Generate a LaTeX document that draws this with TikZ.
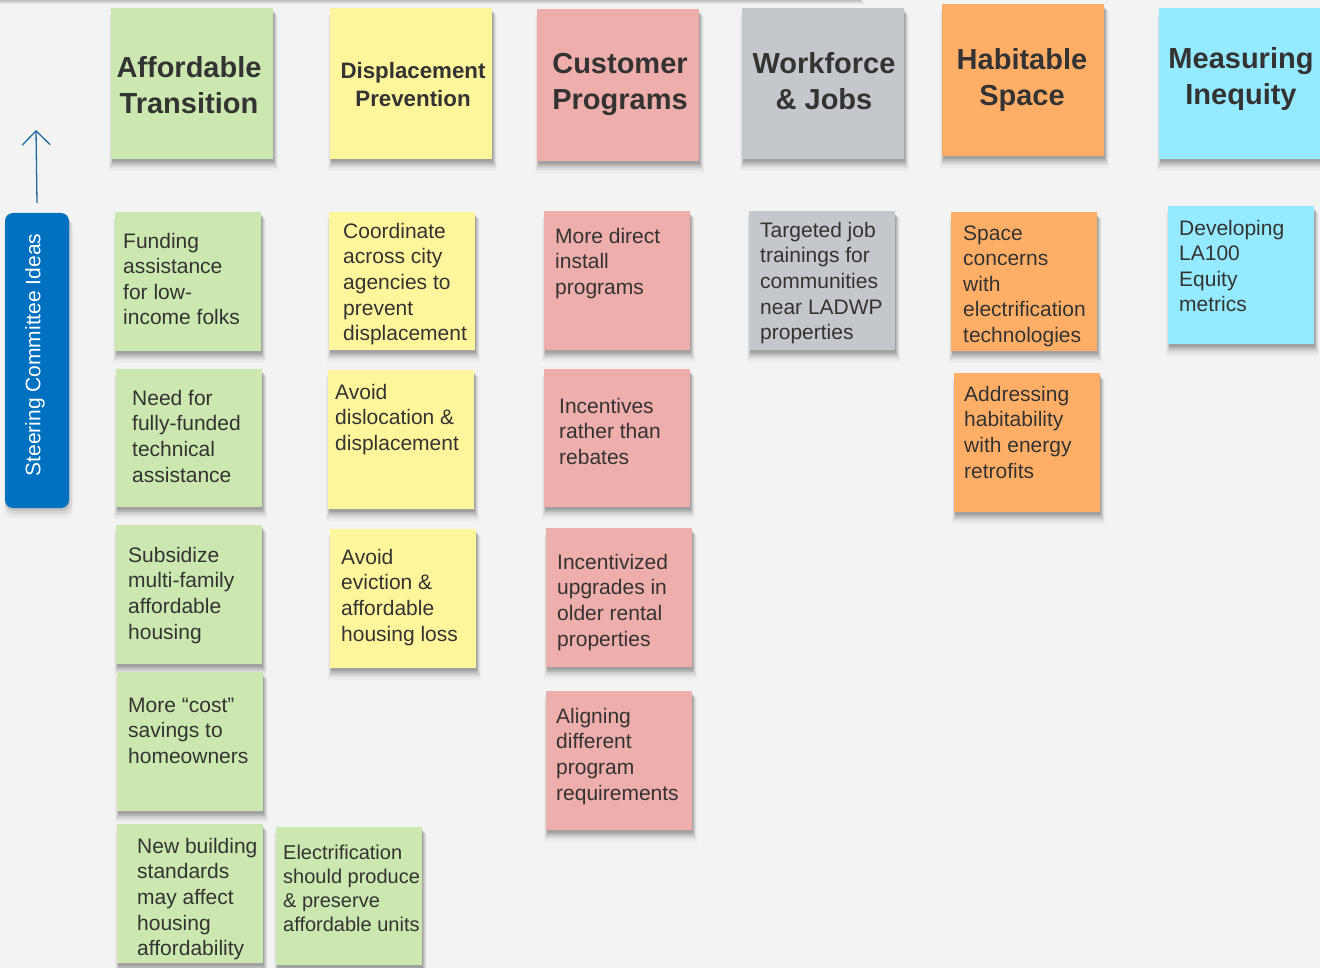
\documentclass[tikz,border=0pt]{standalone}
\usepackage{fontspec}
\setmainfont{Liberation Sans}
\usetikzlibrary{arrows.meta}
\definecolor{bg}{HTML}{F2F3F2}
\definecolor{cgreen}{HTML}{CDE7B1}
\definecolor{cyellow}{HTML}{FFF59A}
\definecolor{cpink}{HTML}{EEAEAB}
\definecolor{cgray}{HTML}{C4C7CC}
\definecolor{corange}{HTML}{FFAE66}
\definecolor{ccyan}{HTML}{94EAFF}
\definecolor{cblue}{HTML}{0070C0}
\definecolor{arrowblue}{HTML}{1F6A9E}
\definecolor{txt}{HTML}{333333}
\newcommand\mystrut{\rule{0pt}{18pt}}
\newcommand\mystrutS{\rule{0pt}{17pt}}
\newcommand\mystrutH{\rule{0pt}{26pt}}
\newcommand\mystrutD{\rule{0pt}{20pt}}
\newcommand\shadowbox[4]{%
  \fill[black,opacity=0.12] ({#1+1},{#2+3}) rectangle ({#3+1},{#4+3});
  \fill[black,opacity=0.10] ({#1+1},{#2+4}) rectangle ({#3+2},{#4+5});
  \fill[black,opacity=0.08] ({#1},{#2+5}) rectangle ({#3+3},{#4+7});
  \fill[black,opacity=0.05] ({#1-1},{#2+6}) rectangle ({#3+4},{#4+9});
  \fill[black,opacity=0.03] ({#1-2},{#2+7}) rectangle ({#3+5},{#4+12});
}
\newcommand\notebox[6]{%
  \shadowbox{#2}{#3}{#4}{#5}
  \node[notebg, fill=#6, minimum width={(#4-#2)*1pt}, minimum height={(#5-#3)*1pt}] (#1) at (#2,#3) {};
}
\tikzset{
  notebg/.style={anchor=north west, inner sep=0pt, outer sep=0pt, draw=none},
  body/.style={anchor=north west, inner sep=0pt, align=left, text=txt, font=\fontsize{21}{25.6}\selectfont},
  bodysmall/.style={anchor=north west, inner sep=0pt, align=left, text=txt, font=\fontsize{20}{24}\selectfont},
  head/.style={anchor=north, inner sep=0pt, align=center, text=txt, font=\fontsize{29}{36}\selectfont\bfseries},
  headsmall/.style={anchor=north, inner sep=0pt, align=center, text=txt, font=\fontsize{22.3}{28}\selectfont\bfseries},
  steerbox/.style={fill=cblue, rounded corners=8pt, inner sep=0pt, minimum width=64pt, minimum height=295pt, draw=none},
  steertext/.style={rotate=90, text=white, inner sep=0pt, font=\fontsize{21}{25}\selectfont},
  arrowline/.style={draw=arrowblue, line width=1.3pt, -{Straight Barb[length=14pt, width=28pt, line width=1.3pt]}}
}
\begin{document}
\begin{tikzpicture}[x=1pt, y=-1pt]
\fill[bg] (0,0) rectangle (1320,968);
\useasboundingbox (0,0) rectangle (1320,968);
% top edge shadow
\fill[black,opacity=0.20] (0,0) rectangle (862,2);
\fill[black,opacity=0.08] (0,2) rectangle (864,4);

% steering committee
\fill[black,opacity=0.10, rounded corners=8pt] (6,216) rectangle (70,511);
\fill[black,opacity=0.07, rounded corners=8pt] (5,218) rectangle (72,514);
\fill[black,opacity=0.04, rounded corners=8pt] (4,220) rectangle (73,518);
\node[steerbox] (steer) at (37,360.5) {};
\node[steertext] (steertxt) at (35,355) {Steering Committee Ideas};
\coordinate (arrowtip) at (36,130);
\draw[arrowline] ([yshift=10pt]steer.north) -- (arrowtip);

% headers
\notebox{hAT}{111}{8}{273}{159}{cgreen}
\node[head] (hATt) at (189,51) {\mystrutH Affordable\\Transition};
\notebox{hDP}{330}{8}{492}{159}{cyellow}
\node[headsmall] (hDPt) at (413,58) {\mystrutD Displacement\\Prevention};
\notebox{hCP}{537}{9}{699}{161}{cpink}
\node[head] (hCPt) at (620,47) {\mystrutH Customer\\Programs};
\notebox{hWJ}{742}{8}{904}{159}{cgray}
\node[head] (hWJt) at (824,47) {\mystrutH Workforce\\\& Jobs};
\notebox{hHS}{942}{4}{1104}{156}{corange}
\node[head] (hHSt) at (1022,43) {\mystrutH Habitable\\Space};
\notebox{hMI}{1159}{8}{1322}{159}{ccyan}
\node[head] (hMIt) at (1241,42) {\mystrutH Measuring\\Inequity};

% column 1 (green)
\notebox{fund}{115}{212}{261}{351}{cgreen}
\node[body] (fundt) at (123,230) {\mystrut Funding\\assistance\\for low-\\income folks};
\notebox{need}{116}{369}{262}{507}{cgreen}
\node[body] (needt) at (132,387) {\mystrut Need for\\fully-funded\\technical\\assistance};
\notebox{subs}{116}{525}{262}{664}{cgreen}
\node[body] (subst) at (128,544) {\mystrut Subsidize\\multi-family\\affordable\\housing};
\notebox{cost}{117}{672}{263}{811}{cgreen}
\node[body] (costt) at (128,694) {\mystrut More “cost”\\savings to\\homeowners};
\notebox{newb}{117}{824}{263}{963}{cgreen}
\node[body] (newbt) at (137,835) {\mystrut New building\\standards\\may affect\\housing\\affordability};
\notebox{elec}{276}{827}{422}{965}{cgreen}
\node[bodysmall] (elect) at (283,842) {\mystrutS Electrification\\should produce\\\& preserve\\affordable units};

% column 2 (yellow)
\notebox{coord}{329}{212}{475}{350}{cyellow}
\node[body] (coordt) at (343,220) {\mystrut Coordinate\\across city\\agencies to\\prevent\\displacement};
\notebox{disl}{328}{370}{474}{509}{cyellow}
\node[body] (dislt) at (335,381) {\mystrut Avoid\\dislocation \&\\displacement};
\notebox{evic}{330}{529}{476}{668}{cyellow}
\node[body] (evict) at (341,546) {\mystrut Avoid\\eviction \&\\affordable\\housing loss};

% column 3 (pink)
\notebox{direct}{544}{211}{690}{350}{cpink}
\node[body] (directt) at (555,225) {\mystrut More direct\\install\\programs};
\notebox{incent}{544}{369}{690}{507}{cpink}
\node[body] (incentt) at (559,395) {\mystrut Incentives\\rather than\\rebates};
\notebox{incz}{546}{528}{692}{667}{cpink}
\node[body] (inczt) at (557,551) {\mystrut Incentivized\\upgrades in\\older rental\\properties};
\notebox{align}{546}{691}{692}{830}{cpink}
\node[body] (alignt) at (556,705) {\mystrut Aligning\\different\\program\\requirements};

% column 4 (gray)
\notebox{target}{749}{211}{895}{350}{cgray}
\node[body] (targett) at (760,219) {\mystrut Targeted job\\trainings for\\communities\\near LADWP\\properties};

% column 5 (orange)
\notebox{space}{951}{212}{1097}{351}{corange}
\node[body] (spacet) at (963,222) {\mystrut Space\\concerns\\with\\electrification\\technologies};
\notebox{addr}{954}{373}{1100}{512}{corange}
\node[body] (addrt) at (964,383) {\mystrut Addressing\\habitability\\with energy\\retrofits};

% column 6 (cyan)
\notebox{devel}{1168}{206}{1314}{344}{ccyan}
\node[body] (develt) at (1179,217) {\mystrut Developing\\LA100\\Equity\\metrics};
\end{tikzpicture}
\end{document}
